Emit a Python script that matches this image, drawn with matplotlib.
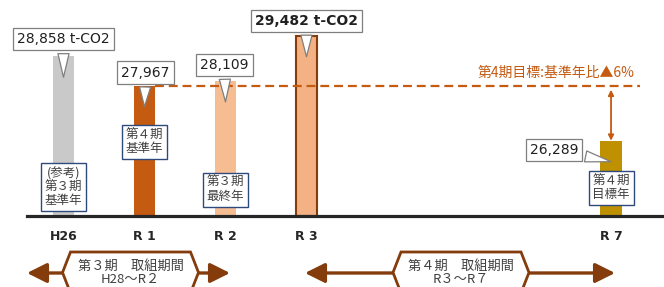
#import libraries
import matplotlib
matplotlib.use("Agg")
import matplotlib.pyplot as plt
from matplotlib.patches import Polygon

plt.rcParams['font.family'] = ['Noto Sans CJK JP', 'DejaVu Sans']

#data
years = ["H26", "R 1", "R 2", "R 3", "R 7"]
values = [28858, 27967, 28109, 29482, 26289]
value_labels = ["28,858 t-CO2", "27,967", "28,109", "29,482 t-CO2", "26,289"]
notes = ["(参考)\n第３期\n基準年", "第４期\n基準年", "第３期\n最終年", None, "第４期\n目標年"]
target_pct = 6
periods = ["第３期　取組期間\nH28～R２", "第４期　取組期間\nR３～R７"]

#layout
x_pos = [0, 1, 2, 3, 6.76]
bar_colors = ["#c9c9c9", "#c55a11", "#f6bd93", "#f4b183", "#bf9000"]
base = 24000
W, H = 664, 287
orange = "#c55a11"
brown = "#843c0c"
navy = "#2e4a7d"
grey_txt = "#404040"

def fx(px):
    return px / W

def fy(py):
    return 1 - py / H

fig = plt.figure(figsize=(W / 100, H / 100), dpi=100)
ax = fig.add_axes([0, 0, 1, 1])
ax.set_xlim(-0.784, 7.414)
ax.set_ylim(21840, 30570)
ax.axis('off')
upp = (30570 - 21840) / H  #data units per pixel

#bars
heights = [v - base for v in values]
bars = ax.bar(x_pos, heights, bottom=base, width=0.265, color=bar_colors, zorder=2)
bars[3].set_edgecolor(brown)
bars[3].set_linewidth(1.5)

#base line
ax.axhline(base, xmin=fx(27), xmax=1, color="#262626", lw=2.3, zorder=3)

#value callouts
offsets = [(0, 38), (1, 34), (-1, 37), (0, 36), (-57, 12)]
for i in range(len(values)):
    weight = 'bold' if i == 3 else 'normal'
    ax.annotate(value_labels[i], xy=(x_pos[i], values[i] - 21 * upp),
                xytext=offsets[i], textcoords='offset pixels',
                ha='center', va='center', fontsize=10, fontweight=weight,
                family='DejaVu Sans', color='#202020', zorder=5,
                bbox=dict(boxstyle='square,pad=0.3', fc='white', ec='#7f7f7f', lw=0.9),
                arrowprops=dict(arrowstyle='wedge,tail_width=0.8', fc='white',
                                ec='#7f7f7f', lw=0.9, shrinkB=0))

#note boxes
note_y = [187, 142, 189.5, None, 188]
for i in range(len(notes)):
    if notes[i] is None:
        continue
    ax.text(x_pos[i], fy(note_y[i]), notes[i], transform=ax.get_xaxis_transform(),
            ha='center', va='center', fontsize=9, color=grey_txt, linespacing=1.05,
            zorder=6, bbox=dict(boxstyle='square,pad=0.3', fc='white', ec=navy, lw=1))

#target line
ax.plot([x_pos[1] + 0.133, fx(640) * 8.198 - 0.784], [values[1], values[1]],
        color=orange, lw=1.6, ls=(0, (4, 2.2)), zorder=3)
ax.text(fx(634), fy(73), f"第4期目標:基準年比▲{target_pct}%", transform=ax.transAxes,
        ha='right', va='center', fontsize=10, color=orange)
ax.annotate('', xy=(x_pos[4], values[4]), xytext=(x_pos[4], values[1]),
            arrowprops=dict(arrowstyle='<|-|>', color=orange, lw=1.3,
                            mutation_scale=8, shrinkA=3, shrinkB=0), zorder=4)

#year labels
for i in range(len(years)):
    ax.text(x_pos[i], fy(237), years[i], transform=ax.get_xaxis_transform(),
            ha='center', va='center', fontsize=9, fontweight='bold',
            family='DejaVu Sans', color='#262626')

#period arrows
arrow_px = [(27, 230), (305, 615)]
hex_cx = [130.5, 461]
for i in range(len(periods)):
    a, b = arrow_px[i]
    ax.annotate('', xy=(fx(b), fy(273)), xytext=(fx(a), fy(273)),
                xycoords='axes fraction', textcoords='axes fraction',
                arrowprops=dict(arrowstyle='<|-|>,head_length=0.8,head_width=0.4',
                                color=brown, lw=2.4, mutation_scale=15,
                                shrinkA=0, shrinkB=0), zorder=3)
    c = hex_cx[i]
    pts = [(c - 68, 272.5), (c - 60, 252), (c + 60, 252), (c + 68, 272.5),
           (c + 60, 293), (c - 60, 293)]
    ax.add_patch(Polygon([(fx(p), fy(q)) for p, q in pts], closed=True,
                         transform=ax.transAxes, fc='white', ec=brown, lw=2, zorder=4))
    ax.text(fx(c), fy(273), periods[i], transform=ax.transAxes, ha='center',
            va='center', fontsize=9.5, color=grey_txt, linespacing=1.05, zorder=5)

fig.savefig("out.png", dpi=100)
